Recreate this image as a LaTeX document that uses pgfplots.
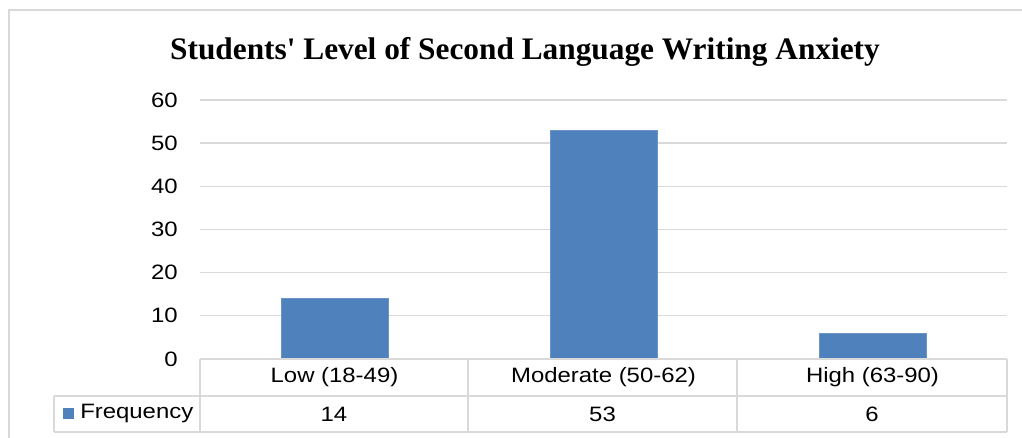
\documentclass[border=0pt]{standalone}
\usepackage{pgfplots}
\pgfplotsset{compat=1.18}
\usepackage{pgfplotstable}
\usepackage{fontspec}
\setmainfont{Liberation Sans}[FakeStretch=1.15]
\newfontfamily\titlefont{Liberation Serif}
\definecolor{barblue}{HTML}{4F81BD}
\definecolor{gridgray}{HTML}{D9D9D9}
\pgfplotstableread{
x y
0 14
1 53
2 6
}\datatable
\newcommand{\lblfont}{\fontsize{15.6pt}{18pt}\selectfont}
\begin{document}
\begin{tikzpicture}
\begin{scope}[x=0.75pt,y=-0.75pt,yshift=328.5pt]
\useasboundingbox (0,0) rectangle (1022,438);
\draw[gridgray, line width=2pt] (9,440) -- (9,10) -- (1024,10);
\node[anchor=base, font=\titlefont\bfseries\fontsize{23.5pt}{26pt}\selectfont] at (525,60) {Students' Level of Second Language Writing Anxiety};
\end{scope}
\begin{axis}[
  at={(150pt,59.25pt)}, anchor=south west,
  scale only axis, width=605.25pt, height=194.25pt,
  xmin=-0.5, xmax=2.5, ymin=0, ymax=60,
  ytick={0,10,...,60},
  xtick={0,1,2},
  xticklabels={Low (18-49), Moderate (50-62), High (63-90)},
  xticklabel style={anchor=center, yshift=-13.9pt, font=\lblfont},
  yticklabel style={anchor=east, inner sep=0pt, xshift=-16.5pt, font=\lblfont},
  /pgf/number format/assume math mode=true,
  major tick length=0pt,
  axis line style={draw=none},
  ymajorgrids, grid style={gridgray, line width=1pt},
  ybar, bar width=80.25pt,
  clip=false,
]
\addplot[fill=barblue, draw=barblue!85!white, line width=0.6pt] table[x=x,y=y] {\datatable};
\end{axis}
\begin{scope}[x=0.75pt,y=-0.75pt,yshift=328.5pt, font=\lblfont]
\begin{scope}[gridgray, line width=1.3pt]
\draw (200,359) -- (1007,359);
\draw (54,396) -- (1007,396);
\draw (54,432) -- (1007,432);
\draw (54,396) -- (54,432);
\foreach \xx in {200,468,737,1007} {\draw (\xx,359) -- (\xx,432);}
\end{scope}
\fill[barblue] (63,408) rectangle (74,419);
\node[anchor=west, inner sep=0pt] at (80,414) {Frequency};
\foreach \i/\xc in {0/334,1/602.5,2/872} {
  \pgfplotstablegetelem{\i}{y}\of\datatable
  \node at (\xc,414) {\pgfplotsretval};
}
\end{scope}
\end{tikzpicture}
\end{document}
